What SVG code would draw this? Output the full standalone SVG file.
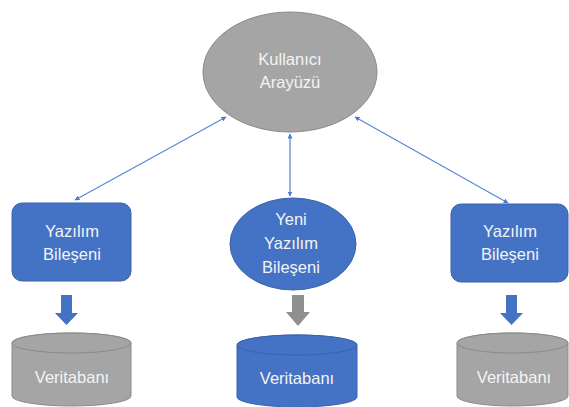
<svg xmlns="http://www.w3.org/2000/svg" width="569" height="407" viewBox="0 0 569 407">
<defs>
<style>
.t{font-family:"Liberation Sans",Arial,sans-serif;font-size:16.5px;fill:#f4f4f4;text-anchor:middle}
.blue{fill:#4472c4;stroke:#3a63ad;stroke-width:1}
.gray{fill:#a5a5a5;stroke:#8a8a8a;stroke-width:1}
.conn{stroke:#5b8ad6;stroke-width:1.3;fill:none;marker-start:url(#ah);marker-end:url(#ah)}
</style>
<marker id="ah" viewBox="0 0 10 10" refX="9" refY="5" markerWidth="5" markerHeight="5" orient="auto-start-reverse" markerUnits="userSpaceOnUse">
<path d="M0,0 L10,5 L0,10 z" fill="#4a7bd0"/>
</marker>
</defs>
<rect width="569" height="407" fill="#ffffff"/>
<g id="connectors">
<line class="conn" x1="75" y1="200" x2="226" y2="117"/>
<line class="conn" x1="290" y1="134" x2="290" y2="196"/>
<line class="conn" x1="355" y1="117" x2="508" y2="203"/>
<polygon points="61,295 72,295 72,313 78,313 66.5,325 55,313 61,313" fill="#4472c4"/>
<polygon points="292,295 304,295 304,312 310,312 298,326 286,312 292,312" fill="#8f8f8f"/>
<polygon points="506,295 517,295 517,313 523,313 511.5,325 500,313 506,313" fill="#4472c4"/>
</g>
<g id="kullanici">
<ellipse class="gray" cx="290" cy="72" rx="87" ry="60"/>
<text class="t" x="290" y="65">Kullanıcı</text>
<text class="t" x="290" y="88">Arayüzü</text>
</g>
<g id="yazilim1">
<rect class="blue" x="12" y="203" width="119" height="78" rx="10"/>
<text class="t" x="72" y="237">Yazılım</text>
<text class="t" x="72" y="260">Bileşeni</text>
</g>
<g id="yeni">
<ellipse class="blue" cx="293" cy="244" rx="63" ry="46"/>
<text class="t" x="291" y="225">Yeni</text>
<text class="t" x="291" y="249">Yazılım</text>
<text class="t" x="291" y="273">Bileşeni</text>
</g>
<g id="yazilim2">
<rect class="blue" x="451" y="204" width="117" height="78" rx="10"/>
<text class="t" x="510" y="237">Yazılım</text>
<text class="t" x="510" y="260">Bileşeni</text>
</g>
<g id="db1">
<path class="gray" d="M12,343 L12,396 A59.5,10 0 0 0 131,396 L131,343 A59.5,10 0 0 0 12,343 Z"/>
<ellipse class="gray" cx="71.5" cy="343" rx="59.5" ry="10"/>
<text class="t" x="72" y="383">Veritabanı</text>
</g>
<g id="db2">
<path class="blue" d="M237,345 L237,397 A60,10 0 0 0 357,397 L357,345 A60,10 0 0 0 237,345 Z"/>
<ellipse class="blue" cx="297" cy="345" rx="60" ry="10"/>
<text class="t" x="297" y="384">Veritabanı</text>
</g>
<g id="db3">
<path class="gray" d="M457,343 L457,396 A55.5,10 0 0 0 568,396 L568,343 A55.5,10 0 0 0 457,343 Z"/>
<ellipse class="gray" cx="512.5" cy="343" rx="55.5" ry="10"/>
<text class="t" x="514" y="383">Veritabanı</text>
</g>
</svg>
